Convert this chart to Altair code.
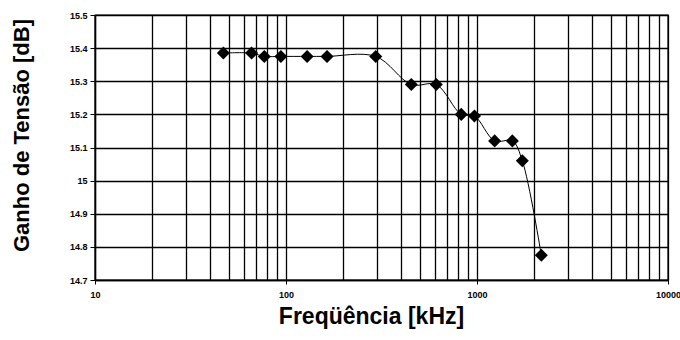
import altair as alt
import pandas as pd

# Frequency (kHz) and voltage gain (dB)
freq_khz = [47, 66, 77, 94, 129, 164, 295, 453, 612, 827, 970, 1237, 1531, 1727, 2171]
gain_db = [15.385, 15.385, 15.375, 15.375, 15.375, 15.375, 15.375, 15.29, 15.29,
           15.2, 15.195, 15.12, 15.12, 15.06, 14.775]

# Axis ticks
x_major = [10, 100, 1000, 10000]
x_ticks = [10, 20, 30, 40, 50, 60, 70, 80, 90,
           100, 200, 300, 400, 500, 600, 700, 800, 900,
           1000, 2000, 3000, 4000, 5000, 6000, 7000, 8000, 9000, 10000]
y_ticks = [14.7, 14.8, 14.9, 15.0, 15.1, 15.2, 15.3, 15.4, 15.5]

df = pd.DataFrame({"f": freq_khz, "g": gain_db})

major_test = " || ".join(f"datum.value == {v}" for v in x_major)

x_enc = alt.X(
    "f:Q",
    scale=alt.Scale(type="log", domain=[10, 10000], nice=False),
    axis=alt.Axis(
        values=x_ticks,
        tickCount=60,
        format="d",
        labelExpr=f"({major_test}) ? datum.label : ''",
        labelFlush=False,
        labelOverlap=False,
        labelFontSize=9,
        labelFontWeight="bold",
        labelFont="Liberation Sans",
        labelColor="black",
        labelPadding=6,
        tickSize=4,
        tickColor="black",
        tickOpacity={"condition": {"test": major_test, "value": 1}, "value": 0},
        grid=True,
        gridColor="black",
        gridWidth=1.3,
        gridOpacity=1,
        domainColor="black",
        domainWidth=1.4,
        title="Freqüência [kHz]",
        titleFont="Liberation Sans",
        titleFontSize=23,
        titleFontWeight="bold",
        titleColor="black",
        titleX=276,
        titleY=43,
        titleAlign="center",
        titleBaseline="alphabetic",
    ),
)

y_enc = alt.Y(
    "g:Q",
    scale=alt.Scale(domain=[14.7, 15.5], nice=False, zero=False),
    axis=alt.Axis(
        values=y_ticks,
        tickCount=30,
        labelExpr="format(datum.value, '.3~g')",
        labelOverlap=False,
        labelFontSize=9,
        labelFontWeight="bold",
        labelFont="Liberation Sans",
        labelColor="black",
        labelPadding=3,
        tickSize=5,
        tickColor="black",
        grid=True,
        gridColor="black",
        gridWidth=1.3,
        gridOpacity=1,
        domainColor="black",
        domainWidth=1.4,
        title="Ganho de Tensão [dB]",
        titleFont="Liberation Sans",
        titleFontSize=22,
        titleFontWeight="bold",
        titleColor="black",
        titleAngle=270,
        titleX=-67,
        titleY=120,
        titleAlign="center",
        titleBaseline="alphabetic",
    ),
)

line = alt.Chart(df).mark_line(
    color="black", strokeWidth=1, interpolate="catmull-rom"
).encode(x=x_enc, y=y_enc)

points = alt.Chart(df).mark_point(
    shape="diamond", filled=True, color="black", size=170, opacity=1
).encode(x="f:Q", y="g:Q")

chart = (
    alt.layer(line, points)
    .properties(
        width=573,
        height=265,
        autosize=alt.AutoSizeParams(type="none"),
        padding={"left": 95, "top": 15, "right": 12, "bottom": 60},
        background="white",
    )
    .configure_view(stroke="black", strokeWidth=1.4)
)

chart.save("out.html", embed_options={"renderer": "svg", "actions": False})
